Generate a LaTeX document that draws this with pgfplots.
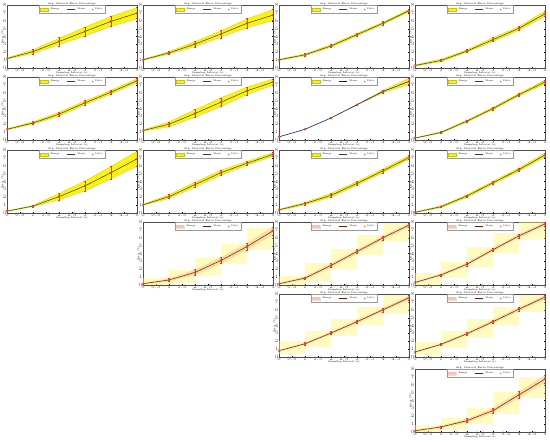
\documentclass[border=0pt]{standalone}
\usepackage{pgfplots}
\pgfplotsset{compat=1.18}
\usepgfplotslibrary{fillbetween}

\definecolor{bandyel}{RGB}{250,242,20}
\definecolor{meanln}{RGB}{70,55,30}
\definecolor{ptred}{RGB}{230,60,30}
\definecolor{boxyel}{RGB}{255,246,120}
\definecolor{bandpink}{RGB}{240,165,150}

\pgfplotsset{
  bandstyle/.style={fill=bandyel, draw=bandyel!80!black, line width=0.2pt},
  meanstyle/.style={meanln, line width=0.5pt},
  lowerp/.style={
    bandstyle/.style={fill=bandpink, fill opacity=0.6, draw=bandpink, draw opacity=0.4},
    meanstyle/.style={black!60!red!80!olive, line width=0.5pt}},
  bluemean/.style={meanstyle/.style={blue!80!black, line width=0.5pt}},
  panel/.style={
    scale only axis, width=130pt, height=63pt, anchor=south west,
    xmin=0, xmax=5, ymin=0, ymax=8,
    xtick={0,0.5,...,5}, ytick={0,1,...,8},
    tick label style={font=\fontsize{2.4}{2.8}\selectfont, black!70, inner sep=0.5pt},
    major tick length=1.2pt, tick style={black, line width=0.2pt},
    axis line style={line width=0.3pt, black!70},
    title={Avg. Interval Error Percentage},
    title style={font=\fontsize{2.6}{3}\selectfont, inner sep=0.3pt, yshift=-6.2pt},
    xlabel={Sampling Interval (s)}, ylabel={Error (\%)},
    label style={font=\fontsize{2.5}{3}\selectfont, inner sep=0.3pt},
    xlabel style={yshift=1.3pt},
    ylabel style={yshift=-2pt},
    legend style={at={(0.5,0.995)}, anchor=north, legend columns=-1,
      draw=black!40, line width=0.2pt, inner sep=0.4pt,
      font=\fontsize{2.4}{2.8}\selectfont,
      /tikz/every even column/.append style={column sep=5pt}},
    legend image post style={scale=0.5},
  },
}

% boxes behind the lower panels
\newcommand\bx[4]{\addplot[fill=boxyel, fill opacity=0.45, draw=none, forget plot]
  coordinates {(#1,#2) (#3,#2) (#3,#4) (#1,#4)} -- cycle;}

% [opts]{x}{y}{mean}{upper}{lower}{points +- err}{extra}
\newcommand\panel[8][]{%
  \begin{axis}[panel, #1, at={(#2pt,#3pt)}]
    #8
    \addplot[name path=up, draw=none, forget plot] coordinates {#5};
    \addplot[name path=lo, draw=none, forget plot] coordinates {#6};
    \addplot[bandstyle, area legend] fill between[of=up and lo];
    \addlegendentry{Range}
    \addplot[meanstyle] coordinates {#4};
    \addlegendentry{Mean}
    \addplot[ptred, only marks, mark=o, mark size=1.1pt,
      error bars/.cd, y dir=both, y explicit,
      error bar style={ptred, line width=0.3pt},
      error mark options={rotate=90, mark size=0.8pt, ptred}]
      coordinates {#7};
    \addlegendentry{Data}
  \end{axis}}

\begin{document}
\begin{tikzpicture}
\path (0,0) (550pt,442pt);

% ---------- row 1
\panel{7}{374}
 {(0,1.20) (1,2.08) (2,3.36) (3,4.64) (4,5.92) (5,6.96)}
 {(0,1.28) (1,2.32) (2,3.76) (3,5.20) (4,6.56) (5,7.68)}
 {(0,1.12) (1,1.84) (2,2.96) (3,4.08) (4,5.28) (5,6.24)}
 {(0,1.20) +- (0,0.1) (1,2.08) +- (0,0.3) (2,3.36) +- (0,0.6) (3,4.64) +- (0,0.6) (4,5.92) +- (0,0.6) (5,6.96) +- (0,0.7)}
 {}
\panel{143}{374}
 {(0,1.04) (1,1.92) (2,3.04) (3,4.32) (4,5.68) (5,6.72)}
 {(0,1.12) (1,2.08) (2,3.36) (3,4.72) (4,6.24) (5,7.44)}
 {(0,0.96) (1,1.76) (2,2.72) (3,3.92) (4,5.12) (5,6.00)}
 {(0,1.04) +- (0,0.1) (1,1.92) +- (0,0.2) (2,3.04) +- (0,0.4) (3,4.32) +- (0,0.5) (4,5.68) +- (0,0.6) (5,6.72) +- (0,0.7)}
 {}
\panel{279}{374}
 {(0,1.04) (1,1.68) (2,2.80) (3,4.24) (4,5.68) (5,7.28)}
 {(0,1.12) (1,1.80) (2,2.96) (3,4.40) (4,5.84) (5,7.44)}
 {(0,0.96) (1,1.56) (2,2.64) (3,4.08) (4,5.52) (5,7.12)}
 {(0,1.04) +- (0,0.1) (1,1.68) +- (0,0.15) (2,2.80) +- (0,0.2) (3,4.24) +- (0,0.2) (4,5.68) +- (0,0.2) (5,7.28) +- (0,0.2)}
 {}
\panel{415}{374}
 {(0,0.32) (1,0.96) (2,2.16) (3,3.60) (4,5.04) (5,6.88)}
 {(0,0.40) (1,1.12) (2,2.32) (3,3.84) (4,5.28) (5,7.20)}
 {(0,0.24) (1,0.80) (2,2.00) (3,3.36) (4,4.80) (5,6.56)}
 {(0,0.32) +- (0,0.1) (1,0.96) +- (0,0.15) (2,2.16) +- (0,0.2) (3,3.60) +- (0,0.25) (4,5.04) +- (0,0.25) (5,6.88) +- (0,0.3)}
 {}

% ---------- row 2
\panel{7}{302}
 {(0,1.36) (1,2.16) (2,3.28) (3,4.72) (4,6.08) (5,7.52)}
 {(0,1.44) (1,2.32) (2,3.52) (3,4.96) (4,6.32) (5,7.76)}
 {(0,1.28) (1,2.00) (2,3.04) (3,4.48) (4,5.84) (5,7.28)}
 {(0,1.36) +- (0,0.1) (1,2.16) +- (0,0.2) (2,3.28) +- (0,0.3) (3,4.72) +- (0,0.3) (4,6.08) +- (0,0.3) (5,7.52) +- (0,0.3)}
 {}
\panel{143}{302}
 {(0,1.20) (1,2.00) (2,3.36) (3,4.80) (4,6.24) (5,7.36)}
 {(0,1.28) (1,2.32) (2,3.84) (3,5.36) (4,6.72) (5,7.76)}
 {(0,1.12) (1,1.68) (2,2.88) (3,4.24) (4,5.76) (5,6.96)}
 {(0,1.20) +- (0,0.1) (1,2.00) +- (0,0.3) (2,3.36) +- (0,0.5) (3,4.80) +- (0,0.55) (4,6.24) +- (0,0.5) (5,7.36) +- (0,0.4)}
 {}
\panel[bluemean]{279}{302}
 {(0,0.40) (1,1.36) (2,2.80) (3,4.48) (4,6.16) (5,7.44)}
 {(0,0.40) (1,1.36) (2,2.80) (3,4.52) (4,6.32) (5,7.84)}
 {(0,0.40) (1,1.36) (2,2.80) (3,4.44) (4,6.00) (5,7.04)}
 {(0,0.40) +- (0,0.05) (1,1.36) +- (0,0.05) (2,2.80) +- (0,0.05) (3,4.48) +- (0,0.1) (4,6.16) +- (0,0.2) (5,7.44) +- (0,0.4)}
 {}
\panel{415}{302}
 {(0,0.24) (1,0.96) (2,2.40) (3,4.00) (4,5.76) (5,7.36)}
 {(0,0.28) (1,1.04) (2,2.52) (3,4.16) (4,5.92) (5,7.60)}
 {(0,0.20) (1,0.88) (2,2.28) (3,3.84) (4,5.60) (5,7.12)}
 {(0,0.24) +- (0,0.05) (1,0.96) +- (0,0.1) (2,2.40) +- (0,0.15) (3,4.00) +- (0,0.2) (4,5.76) +- (0,0.2) (5,7.36) +- (0,0.25)}
 {}

% ---------- row 3
\panel{7}{229}
 {(0,0.24) (1,0.88) (2,2.08) (3,3.44) (4,5.12) (5,6.88)}
 {(0,0.28) (1,0.96) (2,2.48) (3,4.08) (4,5.92) (5,7.84)}
 {(0,0.20) (1,0.80) (2,1.68) (3,2.80) (4,4.32) (5,5.92)}
 {(0,0.24) +- (0,0.05) (1,0.88) +- (0,0.1) (2,2.08) +- (0,0.4) (3,3.44) +- (0,0.65) (4,5.12) +- (0,0.8) (5,6.88) +- (0,0.95)}
 {}
\panel{143}{229}
 {(0,1.04) (1,2.08) (2,3.60) (3,5.12) (4,6.32) (5,7.44)}
 {(0,1.12) (1,2.32) (2,3.92) (3,5.44) (4,6.56) (5,7.68)}
 {(0,0.96) (1,1.84) (2,3.28) (3,4.80) (4,6.08) (5,7.20)}
 {(0,1.04) +- (0,0.1) (1,2.08) +- (0,0.25) (2,3.60) +- (0,0.3) (3,5.12) +- (0,0.3) (4,6.32) +- (0,0.25) (5,7.44) +- (0,0.25)}
 {}
\panel{279}{229}
 {(0,0.40) (1,1.20) (2,2.24) (3,3.76) (4,5.36) (5,7.04)}
 {(0,0.48) (1,1.36) (2,2.48) (3,4.00) (4,5.60) (5,7.28)}
 {(0,0.32) (1,1.04) (2,2.00) (3,3.52) (4,5.12) (5,6.80)}
 {(0,0.40) +- (0,0.1) (1,1.20) +- (0,0.15) (2,2.24) +- (0,0.25) (3,3.76) +- (0,0.25) (4,5.36) +- (0,0.25) (5,7.04) +- (0,0.25)}
 {}
\panel{415}{229}
 {(0,0.08) (1,0.80) (2,2.16) (3,3.84) (4,5.52) (5,7.36)}
 {(0,0.12) (1,0.92) (2,2.32) (3,4.04) (4,5.72) (5,7.60)}
 {(0,0.04) (1,0.68) (2,2.00) (3,3.64) (4,5.32) (5,7.12)}
 {(0,0.08) +- (0,0.05) (1,0.80) +- (0,0.12) (2,2.16) +- (0,0.16) (3,3.84) +- (0,0.2) (4,5.52) +- (0,0.2) (5,7.36) +- (0,0.25)}
 {}

% ---------- row 4
\panel[lowerp]{143}{157}
 {(0,0.16) (1,0.64) (2,1.60) (3,3.12) (4,4.88) (5,6.88)}
 {(0,0.24) (1,0.80) (2,1.92) (3,3.52) (4,5.28) (5,7.36)}
 {(0,0.08) (1,0.48) (2,1.28) (3,2.72) (4,4.48) (5,6.40)}
 {(0,0.16) +- (0,0.1) (1,0.64) +- (0,0.2) (2,1.60) +- (0,0.35) (3,3.12) +- (0,0.4) (4,4.88) +- (0,0.4) (5,6.88) +- (0,0.5)}
 {\bx{0}{-0.24}{1}{0.94}\bx{1}{0.24}{2}{1.90}\bx{2}{1.20}{3}{3.42}\bx{3}{2.72}{4}{5.18}\bx{4}{4.48}{5}{7.18}}
\panel[lowerp]{279}{157}
 {(0,0.16) (1,0.88) (2,2.48) (3,4.24) (4,6.00) (5,7.60)}
 {(0,0.24) (1,1.04) (2,2.72) (3,4.48) (4,6.24) (5,7.84)}
 {(0,0.08) (1,0.72) (2,2.24) (3,4.00) (4,5.76) (5,7.36)}
 {(0,0.16) +- (0,0.1) (1,0.88) +- (0,0.15) (2,2.48) +- (0,0.25) (3,4.24) +- (0,0.25) (4,6.00) +- (0,0.25) (5,7.60) +- (0,0.25)}
 {\bx{0}{-0.24}{1}{1.18}\bx{1}{0.48}{2}{2.78}\bx{2}{2.08}{3}{4.54}\bx{3}{3.84}{4}{6.30}\bx{4}{5.60}{5}{7.90}}
\panel[lowerp]{415}{157}
 {(0,0.32) (1,1.28) (2,2.64) (3,4.48) (4,6.24) (5,7.76)}
 {(0,0.40) (1,1.40) (2,2.80) (3,4.68) (4,6.44) (5,7.96)}
 {(0,0.24) (1,1.16) (2,2.48) (3,4.28) (4,6.04) (5,7.56)}
 {(0,0.32) +- (0,0.1) (1,1.28) +- (0,0.15) (2,2.64) +- (0,0.2) (3,4.48) +- (0,0.25) (4,6.24) +- (0,0.25) (5,7.76) +- (0,0.25)}
 {\bx{0}{-0.08}{1}{1.58}\bx{1}{0.88}{2}{2.94}\bx{2}{2.24}{3}{4.78}\bx{3}{4.08}{4}{6.54}\bx{4}{5.84}{5}{8.06}}

% ---------- row 5
\panel[lowerp]{279}{85}
 {(0,0.80) (1,1.68) (2,3.04) (3,4.48) (4,6.00) (5,7.52)}
 {(0,0.88) (1,1.80) (2,3.20) (3,4.68) (4,6.20) (5,7.76)}
 {(0,0.72) (1,1.56) (2,2.88) (3,4.28) (4,5.80) (5,7.28)}
 {(0,0.80) +- (0,0.1) (1,1.68) +- (0,0.15) (2,3.04) +- (0,0.2) (3,4.48) +- (0,0.25) (4,6.00) +- (0,0.25) (5,7.52) +- (0,0.3)}
 {\bx{0}{0.40}{1}{1.98}\bx{1}{1.28}{2}{3.34}\bx{2}{2.64}{3}{4.78}\bx{3}{4.08}{4}{6.30}\bx{4}{5.60}{5}{7.82}}
\panel[lowerp]{415}{85}
 {(0,0.64) (1,1.60) (2,2.96) (3,4.48) (4,6.08) (5,7.60)}
 {(0,0.72) (1,1.72) (2,3.12) (3,4.68) (4,6.28) (5,7.84)}
 {(0,0.56) (1,1.48) (2,2.80) (3,4.28) (4,5.88) (5,7.36)}
 {(0,0.64) +- (0,0.1) (1,1.60) +- (0,0.15) (2,2.96) +- (0,0.2) (3,4.48) +- (0,0.25) (4,6.08) +- (0,0.25) (5,7.60) +- (0,0.3)}
 {\bx{0}{0.24}{1}{1.90}\bx{1}{1.20}{2}{3.26}\bx{2}{2.56}{3}{4.78}\bx{3}{4.08}{4}{6.38}\bx{4}{5.68}{5}{7.90}}

% ---------- row 6
\panel[lowerp]{415}{10}
 {(0,0.16) (1,0.64) (2,1.44) (3,2.72) (4,4.72) (5,6.72)}
 {(0,0.24) (1,0.76) (2,1.64) (3,3.00) (4,5.08) (5,7.16)}
 {(0,0.08) (1,0.52) (2,1.24) (3,2.44) (4,4.36) (5,6.28)}
 {(0,0.16) +- (0,0.1) (1,0.64) +- (0,0.15) (2,1.44) +- (0,0.25) (3,2.72) +- (0,0.3) (4,4.72) +- (0,0.4) (5,6.72) +- (0,0.5)}
 {\bx{0}{-0.24}{1}{0.94}\bx{1}{0.24}{2}{1.74}\bx{2}{1.04}{3}{3.02}\bx{3}{2.32}{4}{5.02}\bx{4}{4.32}{5}{7.02}}
\end{tikzpicture}
\end{document}
